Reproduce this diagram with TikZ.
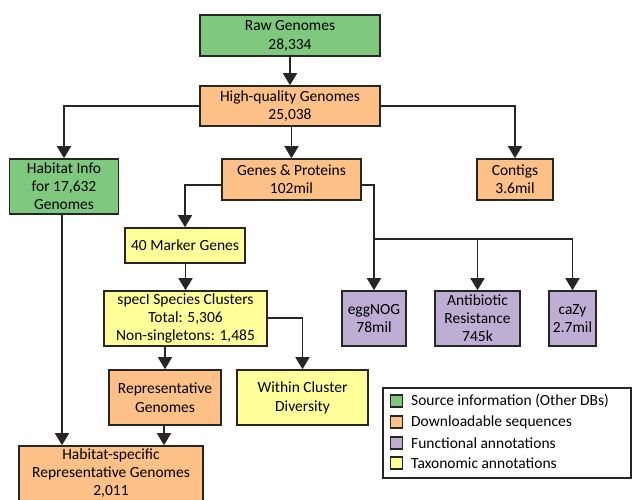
\documentclass[tikz,border=0pt]{standalone}
\usepackage{fontspec}
\setmainfont{Carlito}
\usetikzlibrary{arrows.meta,calc}
\definecolor{cgreen}{HTML}{7FC97F}
\definecolor{corange}{HTML}{FDC086}
\definecolor{cpurple}{HTML}{BEAED4}
\definecolor{cyellow}{HTML}{FFFF99}
\begin{document}
\begin{tikzpicture}[x=1pt,y=-1pt,
  box/.style={draw=black!85,line width=1.6pt,inner sep=0pt,align=center,
    font=\fontsize{15.5}{18}\selectfont},
  src/.style={box,fill=cgreen},
  dl/.style={box,fill=corange},
  fn/.style={box,fill=cpurple},
  tx/.style={box,fill=cyellow},
  conn/.style={draw=black!85,line width=1.7pt},
  arr/.style={conn,-{Triangle[width=14pt,length=12pt]}},
  legsq/.style={draw=black!85,line width=1.3pt,minimum width=12pt,minimum height=12pt,inner sep=0pt},
  legtxt/.style={anchor=west,inner sep=0pt,font=\fontsize{15.5}{18}\selectfont}
]
\useasboundingbox (0,0) rectangle (632,499);

\node[src,minimum width=180pt,minimum height=41pt] (raw) at (290,35.5) {Raw Genomes\\[1pt]28,334};
\node[dl,minimum width=180pt,minimum height=40pt] (hq) at (290,106) {High-quality Genomes\\25,038};
\node[src,minimum width=109pt,minimum height=55pt] (hab) at (64,186.5) {Habitat Info\\for 17,632\\Genomes};
\node[dl,minimum width=139pt,minimum height=41pt] (genes) at (291.5,179.5) {Genes \& Proteins\\102mil};
\node[dl,minimum width=76pt,minimum height=41pt] (contigs) at (515,179.5) {Contigs\\3.6mil};
\node[tx,minimum width=120pt,minimum height=35pt] (marker) at (185,245.5) {40 Marker Genes};
\node[tx,minimum width=163pt,minimum height=55pt] (speci) at (185.5,318.5) {specI Species Clusters\\Total: 5,306\\Non-singletons: 1,485};
\node[fn,minimum width=64pt,minimum height=55pt] (egg) at (374,318.5) {eggNOG\\78mil};
\node[fn,minimum width=85pt,minimum height=55pt] (abr) at (477.5,318.5) {Antibiotic\\Resistance\\745k};
\node[fn,minimum width=47pt,minimum height=55pt] (cazy) at (572.5,318.5) {caZy\\2.7mil};
\node[dl,minimum width=112pt,minimum height=55pt] (rep) at (165,397.5) {Representative\\[1pt]Genomes};
\node[tx,minimum width=131pt,minimum height=55pt] (within) at (302.5,397.5) {Within Cluster\\[1pt]Diversity};
\node[dl,minimum width=184pt,minimum height=55pt] (hsr) at (111,473.5) {Habitat-specific\\Representative Genomes\\2,011};

% connectors
\draw[arr] (raw) -- (hq);
\draw[arr] (hq.west) -| (hab.north);
\draw[arr] (hq.east) -| (contigs.north);
\draw[arr] (hq.south -| genes.north) -- (genes.north);
\draw[arr] ([yshift=-5.5pt]genes.west) -| (marker.north);
\coordinate (split) at (374,239);
\draw[arr] ([yshift=-5.5pt]genes.east) -| (egg.north);
\draw[arr] (split) -| (cazy.north);
\draw[arr] (split -| abr.north) -- (abr.north);
\draw[arr] (marker.south -| speci.north) -- (speci.north);
\draw[arr] ([yshift=0.5pt]speci.east) -| (within.north);
\draw[arr] (speci.south -| rep.north) -- (rep.north);
\draw[arr] (rep.south -| 164,0) -- (hsr.north -| 164,0);
\draw[arr] (hab.south -| 62,0) -- (hsr.north -| 62,0);

% legend
\node[draw=black!85,line width=1.3pt,minimum width=248pt,minimum height=90pt,inner sep=0pt] (legend) at (507,433) {};
\node[legsq,fill=cgreen] (l1) at (396.5,401) {};
\node[legsq,fill=corange] (l2) at (396.5,422) {};
\node[legsq,fill=cpurple] (l3) at (396.5,443) {};
\node[legsq,fill=cyellow] (l4) at (396.5,463) {};
\node[legtxt] (t1) at (411,401) {Source information (Other DBs)};
\node[legtxt] (t2) at (411,422) {Downloadable sequences};
\node[legtxt] (t3) at (411,443) {Functional annotations};
\node[legtxt] (t4) at (411,463) {Taxonomic annotations};
\end{tikzpicture}
\end{document}
